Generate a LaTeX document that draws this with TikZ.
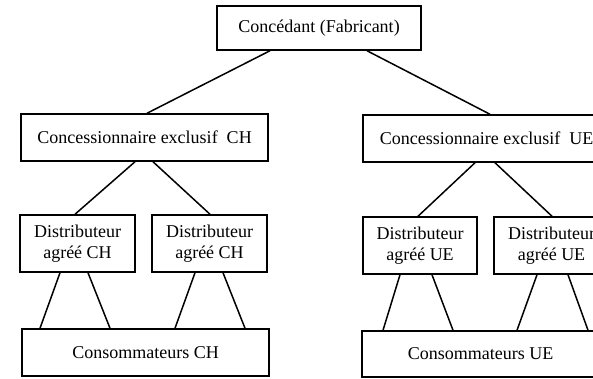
\documentclass[tikz,border=0pt]{standalone}
\usepackage{fontspec}
\setmainfont{Liberation Serif}
\begin{document}
\begin{tikzpicture}[x=1pt,y=-1pt,
  box/.style={draw,line width=1.5pt,inner sep=0pt,align=center,font=\fontsize{18}{21}\selectfont},
  conn/.style={line width=1.5pt}]
\useasboundingbox (0,0) rectangle (593,378);
\clip (0,0) rectangle (593,378);
\node[box,minimum width=204pt,minimum height=44pt] (top) at (319,28) {Concédant (Fabricant)};
\node[box,minimum width=247pt,minimum height=47pt] (cch) at (144.5,137.5) {Concessionnaire exclusif\ \ CH};
\node[box,minimum width=115pt,minimum height=57pt] (d1) at (77.5,243.5) {Distributeur\\agréé CH};
\node[box,minimum width=115pt,minimum height=57pt] (d2) at (209.5,243.5) {Distributeur\\agréé CH};
\node[box,minimum width=247pt,minimum height=47pt] (conch) at (145.5,352.5) {Consommateurs CH};
\node[box,minimum width=247pt,minimum height=47pt] (cue) at (486.5,138.5) {Concessionnaire exclusif\ \ UE};
\node[box,minimum width=114pt,minimum height=57pt] (u1) at (420,245.5) {Distributeur\\agréé UE};
\node[box,minimum width=115pt,minimum height=57pt] (u2) at (551.5,245.5) {Distributeur\\agréé UE};
\node[box,minimum width=237pt,minimum height=46pt] (conue) at (480.5,354) {Consommateurs UE};
\draw[conn] ([xshift=-49pt]top.south) -- ([xshift=2.5pt]cch.north);
\draw[conn] ([xshift=48pt]top.south) -- ([xshift=3.5pt]cue.north);
\draw[conn] ([xshift=-9.5pt]cch.south) -- ([xshift=-2.5pt]d1.north);
\draw[conn] ([xshift=8.5pt]cch.south) -- ([xshift=0.5pt]d2.north);
\draw[conn] ([xshift=-17.5pt]d1.south) -- ([xshift=-105.5pt]conch.north);
\draw[conn] ([xshift=10.5pt]d1.south) -- ([xshift=-35.5pt]conch.north);
\draw[conn] ([xshift=-14.5pt]d2.south) -- ([xshift=29.5pt]conch.north);
\draw[conn] ([xshift=13.5pt]d2.south) -- ([xshift=99.5pt]conch.north);
\draw[conn] ([xshift=-11.5pt]cue.south) -- ([xshift=-2pt]u1.north);
\draw[conn] ([xshift=8.5pt]cue.south) -- ([xshift=0.5pt]u2.north);
\draw[conn] ([xshift=-20pt]u1.south) -- ([xshift=-97.5pt]conue.north);
\draw[conn] ([xshift=12pt]u1.south) -- ([xshift=-27.5pt]conue.north);
\draw[conn] ([xshift=-14.5pt]u2.south) -- ([xshift=36.5pt]conue.north);
\draw[conn] ([xshift=16.5pt]u2.south) -- ([xshift=107.5pt]conue.north);
\end{tikzpicture}
\end{document}
